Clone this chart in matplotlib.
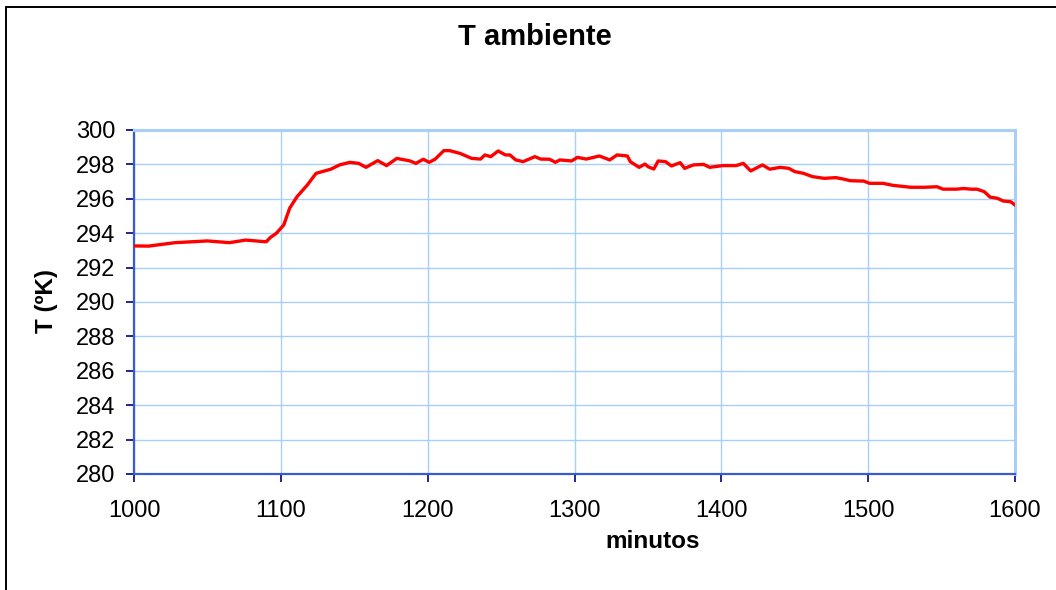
import matplotlib
matplotlib.use("Agg")
import matplotlib.pyplot as plt
from matplotlib.patches import Rectangle

# valores
minutos = [1000, 1010, 1028, 1050, 1065, 1076, 1090, 1093, 1097, 1102,
           1106, 1111, 1118, 1124, 1134, 1140, 1147, 1153, 1158, 1166,
           1172, 1179, 1188, 1192, 1197, 1201, 1205, 1211, 1215, 1222,
           1230, 1236, 1239, 1243, 1248, 1253, 1256, 1260, 1265, 1273,
           1277, 1283, 1287, 1290, 1298, 1302, 1308, 1317, 1324, 1329,
           1336, 1338, 1344, 1348, 1350, 1354, 1357, 1362, 1366, 1372,
           1375, 1381, 1388, 1392, 1401, 1410, 1415, 1420, 1428, 1433,
           1440, 1446, 1450, 1456, 1462, 1470, 1478, 1483, 1488, 1497,
           1501, 1510, 1517, 1529, 1538, 1547, 1551, 1560, 1565, 1570,
           1574, 1579, 1583, 1588, 1592, 1597, 1600]
temp = [293.26, 293.25, 293.45, 293.55, 293.45, 293.6, 293.5, 293.76, 294.0, 294.48,
        295.45, 296.12, 296.8, 297.48, 297.72, 297.97, 298.12, 298.06, 297.83, 298.22,
        297.93, 298.35, 298.2, 298.06, 298.3, 298.12, 298.3, 298.8, 298.8, 298.64,
        298.35, 298.31, 298.55, 298.45, 298.78, 298.55, 298.55, 298.26, 298.16, 298.45,
        298.31, 298.3, 298.12, 298.26, 298.2, 298.41, 298.31, 298.49, 298.26, 298.55,
        298.49, 298.16, 297.83, 298.02, 297.87, 297.73, 298.2, 298.16, 297.91, 298.1,
        297.77, 297.97, 298.0, 297.83, 297.93, 297.93, 298.06, 297.62, 297.97, 297.72,
        297.83, 297.77, 297.58, 297.48, 297.29, 297.19, 297.23, 297.15, 297.05, 297.03,
        296.9, 296.9, 296.78, 296.67, 296.67, 296.7, 296.56, 296.56, 296.6, 296.56,
        296.56, 296.42, 296.1, 296.03, 295.87, 295.83, 295.64]
xticks = [1000, 1100, 1200, 1300, 1400, 1500, 1600]
yticks = list(range(280, 301, 2))

plt.rcParams['font.family'] = ['Liberation Sans', 'DejaVu Sans']

W, H = 1056, 590
fig = plt.figure(figsize=(W / 100, H / 100), dpi=100)
ax = fig.add_axes([134 / W, 1 - 474 / H, (1015 - 134) / W, (474 - 130) / H])

grid_c = '#a8cff7'
ax.plot(minutos, temp, color='red', lw=2.4, zorder=3)
ax.set_xlim(1000, 1600)
ax.set_ylim(280, 300)
ax.set_xticks(xticks)
ax.set_yticks(yticks)
ax.grid(True, color=grid_c, lw=1)
ax.set_axisbelow(True)

ax.spines['left'].set_color('#3a5bd0')
ax.spines['bottom'].set_color('#3a5bd0')
ax.spines['left'].set_linewidth(1.6)
ax.spines['bottom'].set_linewidth(1.6)
ax.spines['top'].set_color(grid_c)
ax.spines['right'].set_color(grid_c)
ax.spines['top'].set_linewidth(2.2)
ax.spines['right'].set_linewidth(2.2)

ax.tick_params(axis='both', direction='out', length=5.5, width=1.2,
               color='#000080', labelsize=17)
ax.tick_params(axis='y', pad=8)
ax.tick_params(axis='x', pad=13)

fig.text(535 / W, 1 - 37 / H, 'T ambiente', ha='center', va='center',
         fontsize=21, fontweight='bold')
fig.text(653 / W, 1 - 542 / H, 'minutos', ha='center', va='center',
         fontsize=17.5, fontweight='bold')
fig.text(46 / W, 1 - 301 / H, 'T (ºK)', ha='center', va='center',
         rotation=90, fontsize=17.5, fontweight='bold')

# marco del grafico
fig.patches.append(Rectangle((6 / W, -0.05), 1.1, 1.05 - 7 / H,
                             transform=fig.transFigure, fill=False,
                             edgecolor='black', lw=1.4))

fig.savefig('out.png', dpi=100)
